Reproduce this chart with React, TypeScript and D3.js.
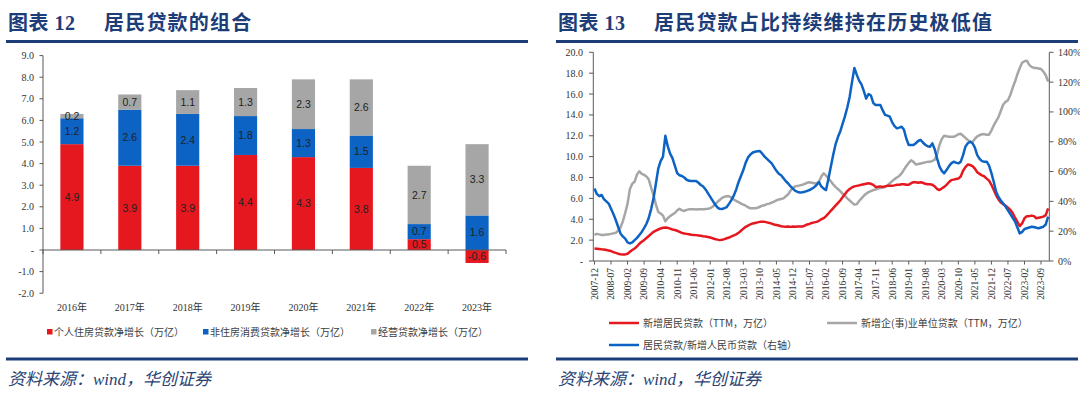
import * as d3 from "d3";
import React from "react";

// ---- chart 12: household loan composition (万亿)
const years = ["2016年", "2017年", "2018年", "2019年", "2020年", "2021年", "2022年", "2023年"];
const housingLoans = [4.9, 3.9, 3.9, 4.4, 4.3, 3.8, 0.5, -0.6];
const consumerLoans = [1.2, 2.6, 2.4, 1.8, 1.3, 1.5, 0.7, 1.6];
const businessLoans = [0.2, 0.7, 1.1, 1.3, 2.3, 2.6, 2.7, 3.3];
const barTicks = [9, 8, 7, 6, 5, 4, 3, 2, 1, 0, -1, -2];
const barLegend = ["个人住房贷款净增长（万亿）", "非住房消费贷款净增长（万亿）", "经营贷款净增长（万亿）"];

// ---- chart 13: monthly, 2007-12 .. 2023-12
// 新增居民贷款 (TTM, 万亿)
const householdNew = [
  1.2, 1.18, 1.15, 1.12, 1.1, 1.05, 1.0, 0.95, 0.85, 0.78, 0.7, 0.65, 0.63, 0.63, 0.7, 0.88, 1.05, 1.2, 1.4, 1.65,
  1.85, 2.0, 2.2, 2.4, 2.6, 2.8, 2.92, 3.02, 3.12, 3.18, 3.2, 3.18, 3.1, 3.02, 2.97, 2.9, 2.8, 2.7, 2.63, 2.6,
  2.56, 2.52, 2.5, 2.48, 2.45, 2.42, 2.38, 2.35, 2.3, 2.25, 2.18, 2.1, 2.05, 2.0, 2.03, 2.1, 2.18, 2.25, 2.35, 2.45,
  2.55, 2.7, 2.9, 3.1, 3.28, 3.4, 3.5, 3.6, 3.65, 3.7, 3.75, 3.77, 3.75, 3.7, 3.65, 3.58, 3.5, 3.45, 3.4, 3.33,
  3.3, 3.28, 3.3, 3.27, 3.3, 3.28, 3.3, 3.3, 3.3, 3.4, 3.5, 3.55, 3.65, 3.7, 3.75, 3.85, 4.0, 4.1, 4.3, 4.55,
  4.8, 5.05, 5.3, 5.55, 5.8, 6.1, 6.4, 6.7, 6.9, 7.05, 7.15, 7.2, 7.25, 7.3, 7.35, 7.4, 7.45, 7.4, 7.3, 7.1,
  7.12, 7.15, 7.1, 7.15, 7.2, 7.2, 7.2, 7.25, 7.3, 7.3, 7.35, 7.35, 7.3, 7.3, 7.45, 7.55, 7.55, 7.5, 7.55, 7.5,
  7.4, 7.35, 7.35, 7.3, 7.15, 6.9, 6.8, 6.95, 7.1, 7.3, 7.55, 7.75, 7.8, 7.85, 7.9, 8.1, 8.65, 9.0, 9.25, 9.2,
  9.1, 8.85, 8.5, 8.35, 8.2, 8.1, 7.9, 7.7, 7.3, 6.8, 6.3, 5.9, 5.6, 5.45, 5.3, 5.1, 4.9, 4.6, 4.15, 3.75,
  3.35, 3.6, 4.1, 4.3, 4.3, 4.35, 4.3, 4.1, 4.15, 4.2, 4.25, 4.4, 5.05,
];
// 新增企(事)业单位贷款 (TTM, 万亿)
const corporateNew = [
  2.5, 2.6, 2.55, 2.5, 2.5, 2.55, 2.55, 2.6, 2.65, 2.7, 2.9, 3.2, 3.8, 4.6, 5.5, 6.9, 7.4, 7.6, 8.3, 8.6,
  8.35, 8.25, 8.1, 7.8, 7.0, 6.3, 5.4, 4.7, 4.55, 4.35, 3.8, 4.1, 4.3, 4.45, 4.6, 4.85, 5.0, 4.85, 4.8, 4.9,
  4.95, 4.95, 4.95, 4.93, 4.95, 4.95, 4.95, 4.98, 5.0, 5.05, 5.2, 5.4, 5.65, 5.85, 6.05, 6.15, 6.2, 6.2, 6.05, 5.9,
  5.75, 5.65, 5.5, 5.4, 5.3, 5.15, 5.05, 5.05, 5.05, 5.1, 5.2, 5.3, 5.35, 5.45, 5.5, 5.6, 5.7, 5.8, 5.9, 5.95,
  6.0, 6.2, 6.4, 6.75, 7.0, 7.15, 7.2, 7.25, 7.3, 7.4, 7.5, 7.55, 7.5, 7.45, 7.45, 7.6, 8.1, 8.4, 8.2, 7.9,
  7.65, 7.35, 7.1, 6.9, 6.7, 6.45, 6.25, 6.0, 5.8, 5.6, 5.4, 5.45, 5.75, 6.0, 6.25, 6.45, 6.6, 6.7, 6.8, 6.85,
  6.95, 7.0, 7.05, 7.1, 7.25, 7.45, 7.65, 7.85, 8.0, 8.15, 8.4, 8.75, 9.1, 9.4, 9.65, 9.5, 9.25, 9.3, 9.35, 9.4,
  9.45, 9.5, 9.5, 9.6, 9.7, 10.2, 11.1, 11.7, 12.0, 11.95, 11.9, 11.9, 11.9, 12.0, 12.15, 12.2, 12.0, 11.8, 11.6, 11.45,
  11.4, 11.7, 11.95, 12.05, 12.15, 12.15, 12.1, 12.1, 12.5, 13.0, 13.4, 13.8, 14.4, 15.0, 15.25, 15.4, 15.9, 16.6, 17.2, 17.9,
  18.5, 19.0, 19.15, 19.2, 18.8, 18.6, 18.5, 18.5, 18.45, 18.4, 18.15, 17.8, 17.2,
];
// 居民贷款/新增人民币贷款 (%, 右轴)
const householdShare = [
  48.7, 45, 43.5, 44.3, 41.5, 40, 38.5, 35, 31.5, 27.5, 23, 18.5, 16.5, 15, 12.5, 11.8, 12.5, 14, 15.5, 17.5,
  19.5, 22, 25, 29, 35, 42, 52, 62, 67, 70, 84, 77, 72, 69, 64, 59, 57.5, 57, 56, 54.5,
  53.8, 53.7, 53.7, 53.7, 52.5, 51, 50, 48, 45.5, 43, 40.5, 38, 36, 35, 34.9, 35.5, 36.2, 38.5, 41, 44,
  48, 53, 57, 61, 66, 69.5, 71.5, 72.8, 73.3, 73.6, 73.8, 72, 70, 68.5, 67, 65.5, 63, 60.5, 58.5, 57.5,
  55.5, 53.5, 52, 50, 48.5, 47, 46.3, 46, 46.1, 46.5, 47, 47.6, 48.5, 49.5, 51, 53, 50, 48.5, 47.6, 55,
  63, 71, 78, 83, 86.8, 92, 97, 103, 110, 120, 129.5, 125, 121, 118.5, 114, 109, 112, 111, 106, 104.6,
  104.6, 104.6, 101, 98, 97.5, 96.8, 93, 90.5, 89, 89.5, 90.1, 88, 82, 77.8, 77.8, 77.8, 79, 80.5, 81.2, 79.5,
  78, 77, 76.7, 78.9, 75, 68.9, 63.5, 60.5, 58.8, 61, 63.5, 65.5, 66.6, 66, 65.5, 66.5, 71, 76.7, 79, 80,
  79, 76, 71, 68.5, 67, 66.6, 66.6, 64, 59, 53, 46.5, 43, 40.5, 38.5, 36.5, 34, 31.5, 29, 26.5, 22.5,
  18.5, 19.5, 21.5, 22, 22.5, 23, 22.8, 22.3, 22, 22.5, 23, 24.5, 29.7,
];
const leftTicks = [0, 2, 4, 6, 8, 10, 12, 14, 16, 18, 20];
const rightTicks = [0, 20, 40, 60, 80, 100, 120, 140];
const lineLegend = ["新增居民贷款（TTM，万亿）", "新增企(事)业单位贷款（TTM，万亿）", "居民贷款/新增人民币贷款（右轴）"];

const RED = "#E5171F";
const BLUE = "#0C63C4";
const GRAY = "#A6A6A6";
const NAVY = "#1C3D78";
const SERIF = "'Liberation Serif', 'Times New Roman', 'Noto Sans CJK SC', serif";
const CJK = "'Noto Sans CJK SC', 'Liberation Sans', sans-serif";

function Header({x0, x1, num, title}: {x0: number; x1: number; num: string; title: string}) {
  return (
    <g>
      <text x={x0 + 2} y={30} fill={NAVY} fontSize={20} fontWeight="bold" fontFamily={SERIF} letterSpacing={0.5}>
        图表 {num}
      </text>
      <text x={x0 + 98} y={30} fill={NAVY} fontSize={20} fontWeight="bold" fontFamily={SERIF} letterSpacing={1.2}>
        {title}
      </text>
      <line x1={x0} x2={x1} y1={41.5} y2={41.5} stroke={NAVY} strokeWidth={3} />
      <line x1={x0} x2={x1} y1={359} y2={359} stroke={NAVY} strokeWidth={3} />
      <text x={x0 + 2} y={385} fill="#2B4272" fontSize={17} fontStyle="italic" fontFamily={SERIF}>
        资料来源：wind，华创证券
      </text>
    </g>
  );
}

function BarChart() {
  const x = d3.scaleBand<string>().domain(years).range([43, 506]).paddingInner(0.6).paddingOuter(0.3);
  const y = d3.scaleLinear().domain([-2, 9]).range([293.2, 55.6]);
  const rows = years.map((year, i) => ({
    year,
    housing: housingLoans[i],
    consumer: consumerLoans[i],
    business: businessLoans[i],
  }));
  const keys = ["housing", "consumer", "business"];
  const colors = [RED, BLUE, GRAY];
  const series = d3.stack<any>().keys(keys).offset(d3.stackOffsetDiverging)(rows);
  const bounds = d3.range(years.length + 1).map((k) => x.range()[0] + k * x.step());
  const legendX = [47, 203, 371];

  return (
    <g>
      {series.map((s, si) =>
        s.map((d, i) => (
          <rect
            key={`${si}-${i}`}
            x={x(years[i])}
            width={x.bandwidth()}
            y={y(Math.max(d[0], d[1]))}
            height={Math.abs(y(d[0]) - y(d[1]))}
            fill={colors[si]}
          />
        )),
      )}
      {series.map((s, si) =>
        s.map((d, i) => (
          <text
            key={`l${si}-${i}`}
            x={(x(years[i]) as number) + x.bandwidth() / 2}
            y={y((d[0] + d[1]) / 2)}
            dy="0.35em"
            textAnchor="middle"
            fontSize={10.5}
            fontFamily="'Liberation Sans', Arial, sans-serif"
            fill="#222"
          >
            {d.data[keys[si]].toFixed(1)}
          </text>
        )),
      )}
      {/* y axis */}
      <line x1={43} x2={43} y1={y(9)} y2={y(-2)} stroke="#595959" />
      {barTicks.map((t) => (
        <g key={t}>
          <line x1={39.5} x2={43} y1={y(t)} y2={y(t)} stroke="#595959" />
          <text x={34} y={y(t)} dy="0.35em" textAnchor="end" fontSize={10} fontFamily={SERIF} fill="#333">
            {t === 0 ? "-" : t.toFixed(1)}
          </text>
        </g>
      ))}
      {/* x axis */}
      <line x1={43} x2={506} y1={y(0)} y2={y(0)} stroke="#595959" />
      {bounds.map((b) => (
        <line key={b} x1={b} x2={b} y1={y(0)} y2={y(0) + 4} stroke="#595959" />
      ))}
      {years.map((yr) => (
        <text
          key={yr}
          x={(x(yr) as number) + x.bandwidth() / 2}
          y={311}
          textAnchor="middle"
          fontSize={10}
          fontFamily={SERIF}
          fill="#333"
        >
          {yr}
        </text>
      ))}
      {barLegend.map((lbl, i) => (
        <g key={lbl}>
          <rect x={legendX[i]} y={329} width={5.5} height={5.5} fill={colors[i]} />
          <text x={legendX[i] + 7} y={332} dy="0.35em" fontSize={10} fontFamily={CJK} fill="#404040">
            {lbl}
          </text>
        </g>
      ))}
    </g>
  );
}

function LineChart() {
  const months = d3.timeMonth.range(new Date(2007, 11, 1), new Date(2024, 0, 1));
  const xb = d3.scaleBand<number>().domain(d3.range(months.length)).range([593.3, 1049.3]);
  const xm = (i: number) => (xb(i) as number) + xb.bandwidth() / 2;
  const yL = d3.scaleLinear().domain([0, 20]).range([261, 52.3]);
  const yR = d3.scaleLinear().domain([0, 140]).range([261, 52.3]);
  const lineL = d3.line<number>().x((_, i) => xm(i)).y((d) => yL(d));
  const lineR = d3.line<number>().x((_, i) => xm(i)).y((d) => yR(d));
  const fmt = d3.timeFormat("%Y-%m");
  const tickIdx = d3.range(0, months.length, 7);

  return (
    <g>
      <path d={lineL(corporateNew) as string} fill="none" stroke={GRAY} strokeWidth={2.5} strokeLinejoin="round" />
      <path d={lineL(householdNew) as string} fill="none" stroke={RED} strokeWidth={2.5} strokeLinejoin="round" />
      <path d={lineR(householdShare) as string} fill="none" stroke={BLUE} strokeWidth={2.5} strokeLinejoin="round" />
      {/* left axis */}
      <line x1={593.3} x2={593.3} y1={52.3} y2={261} stroke="#595959" />
      {leftTicks.map((t) => (
        <g key={t}>
          <line x1={589} x2={593.3} y1={yL(t)} y2={yL(t)} stroke="#595959" />
          <text x={583} y={yL(t)} dy="0.35em" textAnchor="end" fontSize={10} fontFamily={SERIF} fill="#333">
            {t === 0 ? "-" : t.toFixed(1)}
          </text>
        </g>
      ))}
      {/* right axis */}
      <line x1={1049.3} x2={1049.3} y1={52.3} y2={261} stroke="#595959" />
      {rightTicks.map((t) => (
        <g key={t}>
          <line x1={1049.3} x2={1053.5} y1={yR(t)} y2={yR(t)} stroke="#595959" />
          <text x={1058} y={yR(t)} dy="0.35em" fontSize={10} fontFamily={SERIF} fill="#333">
            {t}%
          </text>
        </g>
      ))}
      {/* x axis */}
      <line x1={593.3} x2={1049.3} y1={261} y2={261} stroke="#595959" />
      {tickIdx.map((i) => (
        <g key={i} transform={`translate(${xm(i)},261)`}>
          <line y1={0} y2={3.5} stroke="#595959" />
          <text
            transform="rotate(-90)"
            x={-7}
            dy="0.35em"
            textAnchor="end"
            fontSize={9.5}
            fontFamily={SERIF}
            fill="#333"
          >
            {fmt(months[i])}
          </text>
        </g>
      ))}
      {/* legend */}
      {[
        {x: 609, y: 323, c: RED},
        {x: 827, y: 323, c: GRAY},
        {x: 609, y: 345, c: BLUE},
      ].map((p, i) => (
        <g key={i}>
          <line x1={p.x} x2={p.x + 30} y1={p.y} y2={p.y} stroke={p.c} strokeWidth={2.5} />
          <text x={p.x + 34} y={p.y} dy="0.35em" fontSize={10} fontFamily={CJK} fill="#404040">
            {lineLegend[i]}
          </text>
        </g>
      ))}
    </g>
  );
}

export default function App() {
  return (
    <svg
      width={1080}
      height={393}
      viewBox="0 0 1080 393"
      style={{position: "absolute", left: 0, top: 0, background: "#fff"}}
    >
      <rect width={1080} height={393} fill="#fff" />
      <Header x0={6} x1={528} num="12" title="居民贷款的组合" />
      <Header x0={556} x1={1078} num="13" title="居民贷款占比持续维持在历史极低值" />
      <BarChart />
      <LineChart />
    </svg>
  );
}
